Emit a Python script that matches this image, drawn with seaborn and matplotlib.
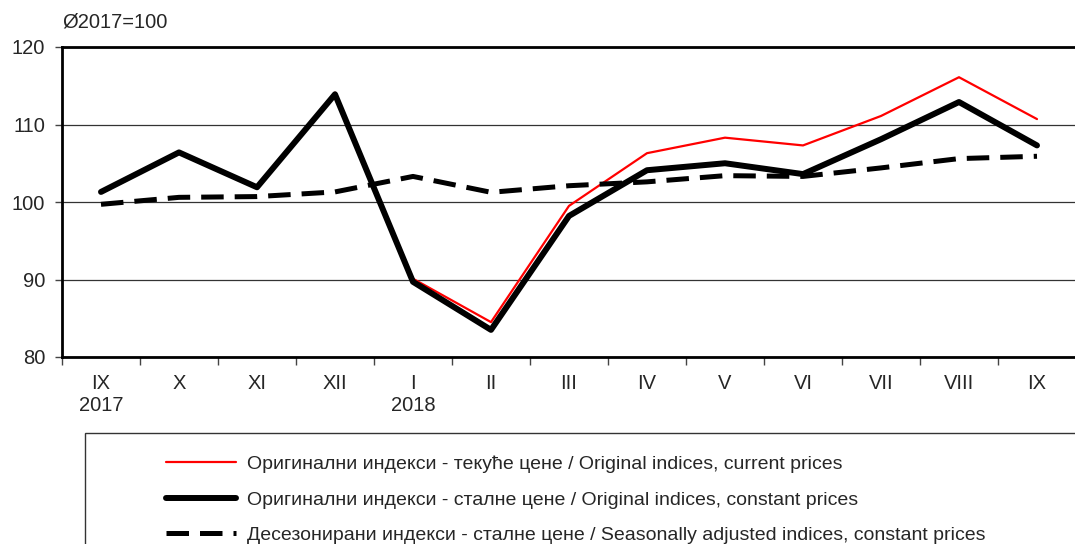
import numpy as np
import pandas as pd
import seaborn as sns
import matplotlib.pyplot as plt
from matplotlib.patches import Rectangle

months = ["IX\n2017", "X", "XI", "XII", "I\n2018", "II", "III",
          "IV", "V", "VI", "VII", "VIII", "IX"]
current_prices = [101.3, 106.4, 102.0, 114.1, 90.1, 84.5, 99.5,
                  106.3, 108.3, 107.3, 111.1, 116.1, 110.7]
constant_prices = [101.3, 106.4, 101.9, 113.9, 89.7, 83.5, 98.2,
                   104.1, 105.0, 103.6, 108.1, 112.9, 107.3]
seasonally_adj = [99.7, 100.6, 100.7, 101.3, 103.3, 101.25, 102.1,
                  102.6, 103.4, 103.3, 104.4, 105.6, 105.9]

labels = ["Оригинални индекси - текуће цене / Original indices, current prices",
          "Оригинални индекси - сталне цене / Original indices, constant prices",
          "Десезонирани индекси - сталне цене / Seasonally adjusted indices, constant prices"]

df = pd.DataFrame({"month": months, "current": current_prices,
                   "constant": constant_prices, "sa": seasonally_adj})

sns.set_style("white")
plt.rcParams["font.family"] = ["Liberation Sans", "DejaVu Sans"]

fig = plt.figure(figsize=(10.75, 5.44), dpi=100)
ax = fig.add_axes([62 / 1075, 1 - 357 / 544, 1014 / 1075, 310 / 544])

sns.lineplot(data=df, x="month", y="current", ax=ax, color="#ff0000",
             linewidth=1.6, label=labels[0], sort=False)
sns.lineplot(data=df, x="month", y="constant", ax=ax, color="black",
             linewidth=4.3, label=labels[1], sort=False)
sns.lineplot(data=df, x="month", y="sa", ax=ax, color="black",
             linewidth=3.6, label=labels[2], sort=False)
ax.lines[2].set_linestyle((0, (4.5, 2.2)))

ax.set_xlim(-0.5, len(months) - 0.5)
ax.set_ylim(80, 120)
ax.set_yticks([80, 90, 100, 110, 120])
ax.set_xlabel("")
ax.set_ylabel("")
ax.yaxis.grid(True, color="#333333", linewidth=0.9)
ax.set_axisbelow(True)

for side in ["top", "left", "bottom"]:
    ax.spines[side].set_linewidth(2)
    ax.spines[side].set_color("black")
ax.spines["right"].set_visible(False)

ax.set_xticks(np.arange(len(months) + 1) - 0.5, minor=True)
ax.tick_params(axis="x", which="major", length=0, pad=12, labelsize=14.5)
ax.tick_params(axis="x", which="minor", length=6, width=1, color="#444444",
               direction="out", bottom=True)
ax.tick_params(axis="y", length=5, width=1, color="#444444", left=True,
               labelsize=14.5, pad=7)
for t in ax.get_xticklabels():
    t.set_linespacing(1.25)
    t.set_verticalalignment("top")

fig.text(62 / 1075, 1 - 22 / 544, "Ø2017=100", fontsize=14.5, va="center", ha="left")

ax.get_legend().remove()
handles, _ = ax.get_legend_handles_labels()
fig.legend(handles, labels, loc="upper left",
           bbox_to_anchor=(148 / 1075, 1 - 438 / 544),
           frameon=False, fontsize=14, handlelength=3.6, labelspacing=0.92,
           handletextpad=0.6)
fig.patches.append(Rectangle((85 / 1075, -0.05), 1.0, 0.05 + 1 - 433 / 544,
                             transform=fig.transFigure, fill=False,
                             edgecolor="#333333", linewidth=1))

fig.savefig("out.png", dpi=100)
